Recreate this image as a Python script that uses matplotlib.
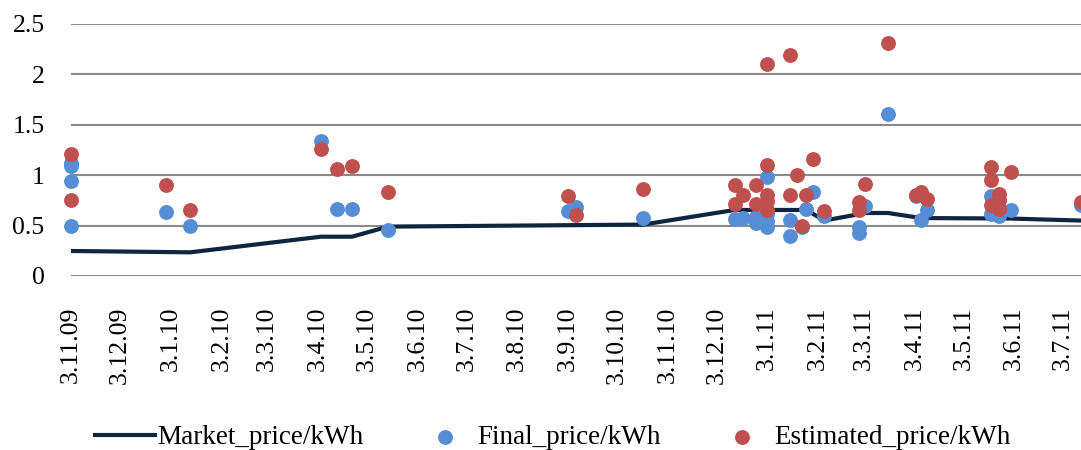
import numpy as np
import matplotlib
matplotlib.use("Agg")
import matplotlib.pyplot as plt

# market price line (vertices)
market_dates = [
    "2009-11-03", "2010-01-15", "2010-04-05", "2010-04-24", "2010-05-16",
    "2010-10-19", "2010-12-14", "2011-01-27", "2011-02-07", "2011-03-04",
    "2011-03-18", "2011-04-07", "2011-06-01", "2011-07-14",
]
market_vals = [
    0.248, 0.235, 0.39, 0.39, 0.49,
    0.51, 0.655, 0.655, 0.55, 0.625,
    0.625, 0.575, 0.57, 0.55,
]

final_dates = [
    "2009-11-03", "2009-11-03", "2009-11-03", "2009-11-03",
    "2009-12-31", "2010-01-15", "2010-04-05", "2010-04-15", "2010-04-24",
    "2010-05-16", "2010-09-03", "2010-09-08", "2010-10-19",
    "2010-12-14", "2010-12-19", "2010-12-27", "2010-12-27",
    "2011-01-03", "2011-01-03", "2011-01-03", "2011-01-03",
    "2011-01-17", "2011-01-17", "2011-01-24", "2011-01-27", "2011-01-31",
    "2011-02-07", "2011-02-28", "2011-02-28", "2011-03-04", "2011-03-18",
    "2011-04-04", "2011-04-07", "2011-04-11",
    "2011-05-20", "2011-05-20", "2011-05-25", "2011-05-25", "2011-06-01",
    "2011-07-14",
]
final_vals = [
    1.12, 1.09, 0.94, 0.50,
    0.63, 0.50, 1.34, 0.66, 0.66,
    0.455, 0.64, 0.68, 0.58,
    0.57, 0.58, 0.59, 0.53,
    0.985, 0.62, 0.55, 0.49,
    0.56, 0.40, 0.49, 0.66, 0.83,
    0.60, 0.49, 0.43, 0.69, 1.61,
    0.79, 0.555, 0.65,
    0.79, 0.62, 0.75, 0.60, 0.65,
    0.70,
]

estimated_dates = [
    "2009-11-03", "2009-11-03", "2009-12-31", "2010-01-15",
    "2010-04-05", "2010-04-15", "2010-04-24", "2010-05-16",
    "2010-09-03", "2010-09-08", "2010-10-19",
    "2010-12-14", "2010-12-14", "2010-12-19", "2010-12-27", "2010-12-27",
    "2011-01-03", "2011-01-03", "2011-01-03", "2011-01-03", "2011-01-03",
    "2011-01-17", "2011-01-17", "2011-01-21", "2011-01-24", "2011-01-27",
    "2011-01-31", "2011-02-07", "2011-02-28", "2011-02-28", "2011-03-04",
    "2011-03-18", "2011-04-04", "2011-04-07", "2011-04-11",
    "2011-05-20", "2011-05-20", "2011-05-20",
    "2011-05-25", "2011-05-25", "2011-05-25", "2011-06-01",
    "2011-07-14",
]
estimated_vals = [
    1.21, 0.75, 0.90, 0.65,
    1.26, 1.06, 1.09, 0.83,
    0.79, 0.61, 0.86,
    0.90, 0.71, 0.80, 0.90, 0.71,
    2.10, 1.10, 0.80, 0.74, 0.65,
    2.19, 0.80, 1.00, 0.50, 0.80,
    1.16, 0.64, 0.73, 0.65, 0.91,
    2.31, 0.80, 0.83, 0.76,
    1.08, 0.95, 0.70,
    0.81, 0.66, 0.75, 1.03,
    0.73,
]

tick_dates = [
    "2009-11-03", "2009-12-03", "2010-01-03", "2010-02-03", "2010-03-03",
    "2010-04-03", "2010-05-03", "2010-06-03", "2010-07-03", "2010-08-03",
    "2010-09-03", "2010-10-03", "2010-11-03", "2010-12-03", "2011-01-03",
    "2011-02-03", "2011-03-03", "2011-04-03", "2011-05-03", "2011-06-03",
    "2011-07-03",
]
tick_labels = [
    "3.11.09", "3.12.09", "3.1.10", "3.2.10", "3.3.10", "3.4.10", "3.5.10",
    "3.6.10", "3.7.10", "3.8.10", "3.9.10", "3.10.10", "3.11.10", "3.12.10",
    "3.1.11", "3.2.11", "3.3.11", "3.4.11", "3.5.11", "3.6.11", "3.7.11",
]
y_ticks = [0, 0.5, 1, 1.5, 2, 2.5]
y_labels = ["0", "0.5", "1", "1.5", "2", "2.5"]


def to_dt(seq):
    return np.array(seq, dtype="datetime64[D]")


plt.rcParams["font.family"] = ["Liberation Serif", "DejaVu Serif"]
plt.rcParams["font.size"] = 18

fig = plt.figure(figsize=(10.81, 4.5), dpi=100)
ax = fig.add_axes([71 / 1081, 1 - 276 / 450, 1 - 71 / 1081, 252 / 450])

ax.plot(to_dt(market_dates), market_vals, color="#0F243E", lw=3.0,
        solid_joinstyle="round", label="Market_price/kWh", zorder=2)
ax.scatter(to_dt(final_dates), final_vals, s=115, color="#558ED5",
           linewidths=0, label="Final_price/kWh", zorder=3, clip_on=False)
ax.scatter(to_dt(estimated_dates), estimated_vals, s=115, color="#C0504D",
           linewidths=0, label="Estimated_price/kWh", zorder=4, clip_on=False)

ax.set_xlim(np.datetime64("2009-11-03"), np.datetime64("2011-07-14"))
ax.set_ylim(0, 2.5)
ax.set_yticks(y_ticks)
ax.set_yticklabels(y_labels, fontsize=18.5)
ax.set_xticks(to_dt(tick_dates))
ax.set_xticklabels(tick_labels, rotation=90, va="top", ha="center",
                   fontsize=18.5)
ax.tick_params(axis="y", length=0, pad=19)
ax.tick_params(axis="x", length=0, pad=22)
ax.grid(axis="y", color="#8A8A8A", lw=1.5)
ax.set_axisbelow(True)
for sp in ax.spines.values():
    sp.set_visible(False)

fig.legend(loc="center", bbox_to_anchor=(553 / 1081, 12 / 450), ncol=3,
           frameon=False, fontsize=19.5, handlelength=2.2, handletextpad=0.1,
           columnspacing=1.9, markerscale=1.0, borderpad=0)

fig.savefig("out.png", dpi=100)
